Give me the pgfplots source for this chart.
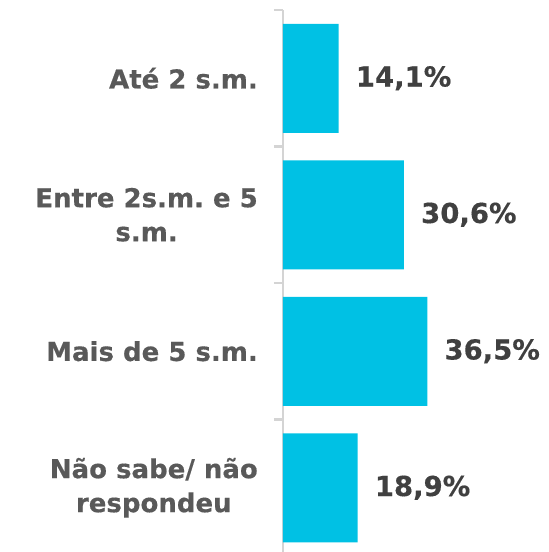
\documentclass[border=0pt]{standalone}
\usepackage{pgfplots}
\pgfplotsset{compat=1.18}
\usepackage{fontspec}
\setmainfont{DejaVu Sans}[BoldFeatures={FakeBold=0.4}]
\definecolor{barc}{HTML}{00C1E4}
\definecolor{labc}{HTML}{595959}
\definecolor{valc}{HTML}{404040}
\definecolor{axc}{HTML}{D4D4D4}
\begin{document}
\frenchspacing
\begin{tikzpicture}[x=1pt,y=1pt]
\path[use as bounding box] (0,0) rectangle (549,552);
\begin{axis}[
  at={(283pt,542pt)}, anchor=north west,
  scale only axis, width=266pt, height=546pt,
  xmin=0, xmax=67.3, ymin=-0.5, ymax=3.5, y dir=reverse,
  axis y line*=left, axis x line=none,
  axis line style={axc, line width=2.5pt},
  ytick={0,1,2,3},
  yticklabels={{Até 2 s.m.},{Entre 2s.m. e 5\\s.m.},{Mais de 5 s.m.},{Não sabe/ não\\respondeu}},
  major tick length=0pt,
  minor ytick={-0.5,0.5,1.5,2.5,3.5},
  minor tick length=9pt,
  tick align=outside,
  minor tick style={axc, line width=2.5pt},
  yticklabel style={font=\bfseries\fontsize{26}{34}\selectfont, text=labc, align=center, inner sep=0pt, xshift=-25pt},
  clip=false,
  xbar, bar width=109pt, bar shift=0pt,
  point meta=explicit symbolic,
  nodes near coords,
  nodes near coords style={font=\bfseries\fontsize{27.5}{33}\selectfont, text=valc, anchor=west, inner sep=0pt, xshift=17pt},
]
\addplot[fill=barc, draw=none] coordinates {
  (14.1,0) [14,1\%]
  (30.6,1) [30,6\%]
  (36.5,2) [36,5\%]
  (18.9,3) [18,9\%]
};
\end{axis}
\end{tikzpicture}
\end{document}
